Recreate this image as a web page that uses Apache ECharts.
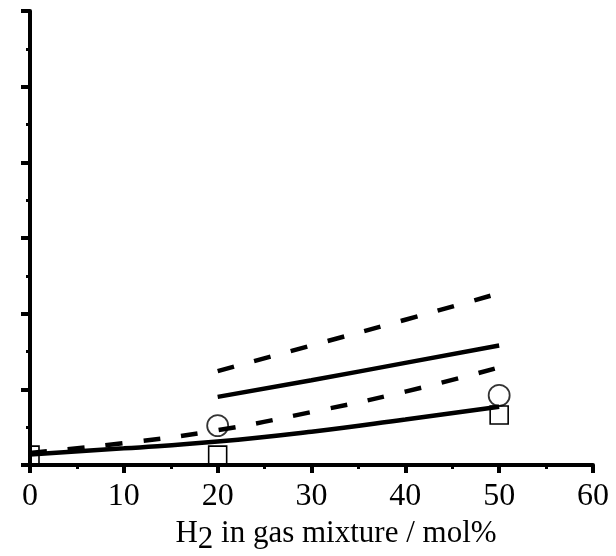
<!DOCTYPE html>
<html>
<head>
<meta charset="utf-8">
<script src="https://cdn.jsdelivr.net/npm/echarts@6/dist/echarts.min.js"></script>
<style>html,body{margin:0;padding:0;background:#fff;}#c{width:616px;height:556px;}</style>
</head>
<body>
<div id="c"></div>
<script>
// Data
var xTicks = [0, 10, 20, 30, 40, 50, 60];
var lowerSolid = [[0, 0.14], [10, 0.22], [20, 0.31], [30, 0.44], [40, 0.60], [50, 0.77]];
var lowerDashed = [[0, 0.16], [10, 0.29], [20, 0.46], [30, 0.70], [40, 0.97], [50, 1.29]];
var upperSolid = [[20, 0.90], [30, 1.12], [40, 1.35], [50, 1.58]];
var upperDashed = [[20, 1.24], [30, 1.58], [40, 1.92], [50, 2.27]];
var circles = [[20, 0.52], [50, 0.92]];
var squares = [[0, 0.13], [20, 0.13], [50, 0.66]];

var FONT = '"Liberation Serif", "Times New Roman", serif';
var chart = echarts.init(document.getElementById('c'), null, {renderer: 'canvas'});

function lineSeries(data, dashed) {
  return {
    type: 'line', data: data, smooth: true, symbol: 'none', z: 2,
    lineStyle: {color: '#000', width: 4.5, type: dashed ? [17, 21] : 'solid', cap: 'butt'}
  };
}

chart.setOption({
  backgroundColor: '#fff',
  animation: false,
  grid: {left: 30, right: 23, top: 11, bottom: 91, containLabel: false, outerBoundsMode: 'none'},
  xAxis: {
    type: 'value', min: 0, max: 60, interval: 10,
    axisLine: {show: true, onZero: false, lineStyle: {color: '#000', width: 4}},
    axisTick: {show: true, inside: false, length: 8, lineStyle: {color: '#000', width: 4}},
    minorTick: {show: true, splitNumber: 2, length: 4, lineStyle: {color: '#000', width: 3}},
    splitLine: {show: false},
    axisLabel: {
      color: '#000', fontFamily: FONT, fontSize: 32, margin: 16,
      formatter: function (v) { return xTicks.indexOf(v) >= 0 ? String(v) : ''; }
    },
    name: 'H{sub|2} in gas mixture / mol%',
    nameLocation: 'middle', nameGap: 47,
    nameTextStyle: {
      color: '#000', fontFamily: FONT, fontSize: 31, padding: [0, 0, 0, 49],
      verticalAlign: 'top',
      rich: {
        sub: {color: '#000', fontFamily: FONT, fontSize: 31, padding: [12, 0, 0, 0], verticalAlign: 'top'}
      }
    }
  },
  yAxis: {
    type: 'value', min: 0, max: 6, interval: 1,
    axisLine: {show: true, onZero: false, lineStyle: {color: '#000', width: 4}},
    axisTick: {show: true, inside: false, length: 9, lineStyle: {color: '#000', width: 4}},
    minorTick: {show: true, splitNumber: 2, length: 4, lineStyle: {color: '#000', width: 3}},
    splitLine: {show: false},
    axisLabel: {show: false}
  },
  series: [
    lineSeries(lowerSolid, false),
    lineSeries(lowerDashed, true),
    lineSeries(upperSolid, false),
    lineSeries(upperDashed, true),
    {
      type: 'scatter', data: circles, symbol: 'circle', symbolSize: 21, z: 3,
      itemStyle: {color: 'rgba(0,0,0,0)', borderColor: '#000', borderWidth: 1.8}
    },
    {
      type: 'custom', data: squares, z: 3,
      renderItem: function (params, api) {
        var p = api.coord([api.value(0), api.value(1)]);
        var s = 18;
        var cs = params.coordSys;
        var r = echarts.graphic.clipRectByRect(
          {x: p[0] - s / 2, y: p[1] - s / 2, width: s, height: s},
          {x: cs.x, y: cs.y, width: cs.width, height: cs.height}
        );
        return r && {type: 'rect', shape: r, style: {fill: 'none', stroke: '#000', lineWidth: 1.6}};
      }
    }
  ]
});
</script>
</body>
</html>
